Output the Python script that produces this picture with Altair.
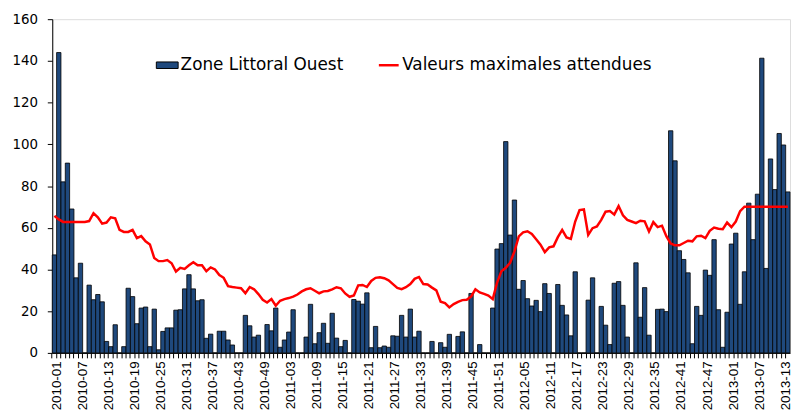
import altair as alt
import pandas as pd

# ---- data -------------------------------------------------------------
years = [2010, 2011, 2012, 2013]
weeks_per_year = [52, 52, 52, 14]
weeks = [f"{y}-{w:02d}" for y, n in zip(years, weeks_per_year) for w in range(1, n + 1)]

cases = [
    47, 144, 82, 91, 69, 36, 43, 0, 32.5, 25.5,
    28, 24.5, 5.5, 3, 13.5, 0, 3, 31, 27, 14,
    21.5, 22, 3, 21, 1.5, 10.3, 12, 12, 20.5, 20.7,
    30.7, 37.5, 30.7, 25, 25.5, 7, 9, 0, 10.4, 10.4,
    6.2, 3.8, 0, 0, 18, 13, 7.6, 8.5, 0, 13.6,
    10.6, 21.5, 2.7, 6.2, 10, 20.7, 0, 0, 7.6, 23.3,
    4.4, 9.7, 14.2, 4.6, 19, 7.1, 3, 6, 0, 25.6,
    24.8, 23.4, 28.8, 2.5, 12.7, 2.5, 3.3, 2.7, 8.2, 8,
    18, 7.6, 21, 7.6, 10.4, 0, 0, 5.5, 0, 4.9,
    2.7, 8.9, 0, 7.9, 10.1, 0, 28.5, 0, 4, 0,
    0, 21.5, 49.8, 52.4, 101.3, 56.5, 73.3, 30.5, 34.7, 26,
    22.5, 25.2, 19.8, 33.2, 28.5, 0, 32.8, 22.8, 18.2, 8.2,
    38.9, 0, 0, 25.3, 36, 0, 22.3, 13.3, 4, 33.4,
    34.2, 22.8, 7.6, 0, 43.2, 17.1, 31.3, 8.5, 0, 20.9,
    21, 19.8, 106.5, 92.1, 49, 44.8, 38.4, 4.4, 22.3, 18,
    39.7, 37.2, 54.3, 20.7, 2.7, 19.5, 52.2, 57.4, 23.3, 38.9,
    71.8, 54.3, 76.1, 141.3, 40.5, 93, 78.3, 105.2, 99.7, 77.2,
]

max_expected = [
    65.7, 64, 62.8, 62.8, 62.8, 62.8, 62.8, 62.8, 63.2, 67,
    65, 62, 62.5, 65, 64.5, 59, 58, 58, 59, 55,
    56, 53.5, 52, 45.5, 44, 44, 44.5, 43, 39, 40.8,
    40.3, 42, 43.5, 42, 42, 39.2, 41, 40, 37.3, 36,
    32, 31.6, 31.3, 31, 28.6, 31.6, 30.5, 28.2, 25.5, 24.2,
    25.8, 22.6, 25, 25.8, 26.3, 27, 28, 29.5, 30.5, 31,
    29.8, 28.6, 29.5, 29.7, 30.5, 31.5, 31, 28.5, 26.9, 27.5,
    32.4, 32.6, 31.6, 34.5, 36, 36.3, 35.8, 34.8, 33, 31.2,
    30.6, 31.5, 33, 35.5, 36.4, 33, 32.8, 31.3, 30, 24.5,
    23.9, 21.8, 23.4, 24.5, 25.3, 25.5, 27, 30.5, 29, 28.3,
    27.5, 25.8, 33.7, 39.2, 40.8, 43.2, 48.7, 55.9, 57.8, 58.3,
    57, 54.5, 51.9, 48.3, 50.6, 51.1, 55.5, 59, 55.4, 54.7,
    63, 68.5, 68.8, 56.6, 59.8, 60.6, 63.8, 67.7, 68, 66.3,
    70.4, 66, 63.8, 63, 62.2, 63.4, 63.1, 58.2, 62.7, 60.3,
    61, 56, 52.5, 51.6, 51.6, 52.7, 53.8, 53.5, 55.9, 56.2,
    55, 58.5, 60.1, 59.5, 59.3, 62.5, 60.3, 63, 68, 70.1,
    70.1, 70.1, 70.1, 70.1, 70.1, 70.1, 70.1, 70.1, 70.1, 70.1,
]

bar_name = "Zone Littoral Ouest"
line_name = "Valeurs maximales attendues"
y_ticks = [0, 20, 40, 60, 80, 100, 120, 140, 160]
labeled_weeks = weeks[::6]

df = pd.DataFrame({
    "week": weeks,
    "cases": cases,
    "maxexp": max_expected,
    "s_bar": bar_name,
    "s_line": line_name,
})

# ---- chart ------------------------------------------------------------
W, H = 745, 337
band = W / len(weeks)
label_list = "[" + ",".join(f"'{w}'" for w in labeled_weeks) + "]"

x_enc = alt.X(
    "week:N",
    sort=weeks,
    scale=alt.Scale(paddingInner=0, paddingOuter=0),
    axis=alt.Axis(
        title=None,
        labelAngle=-90,
        labelExpr=f"indexof({label_list}, datum.value) >= 0 ? datum.value : ''",
        labelOverlap=False,
        labelFont="Liberation Sans",
        labelFontSize=13.5,
        labelColor="black",
        labelPadding=3,
        bandPosition=0,
        labelOffset=band / 2,
        tickSize=5,
        tickColor="black",
        domainColor="black",
        grid=False,
    ),
)

y_enc_axis = alt.Axis(
    title=None,
    values=y_ticks,
    labelFont="DejaVu Sans",
    labelFontSize=13.5,
    labelColor="black",
    labelPadding=10,
    tickSize=5,
    tickColor="black",
    domainColor="black",
    grid=False,
)

bars = alt.Chart(df).mark_bar(stroke="black", strokeWidth=0.8).encode(
    x=x_enc,
    y=alt.Y("cases:Q", scale=alt.Scale(domain=[0, 160], nice=False), axis=y_enc_axis),
    fill=alt.Fill(
        "s_bar:N",
        scale=alt.Scale(domain=[bar_name], range=["#1F497D"]),
        legend=alt.Legend(
            title=None,
            orient="none",
            legendX=104.6,
            legendY=35,
            padding=0,
            symbolType="M-1,-0.3H1V0.3H-1Z",
            symbolSize=484,
            symbolStrokeColor="black",
            symbolStrokeWidth=1,
            symbolOpacity=1,
            labelFont="DejaVu Sans",
            labelFontSize=17,
            labelColor="black",
            labelOffset=2,
            labelLimit=0,
        ),
    ),
)

line = alt.Chart(df).mark_line(strokeWidth=2.5).encode(
    x=x_enc,
    y=alt.Y("maxexp:Q", scale=alt.Scale(domain=[0, 160], nice=False)),
    stroke=alt.Stroke(
        "s_line:N",
        scale=alt.Scale(domain=[line_name], range=["#FF0000"]),
        legend=alt.Legend(
            title=None,
            orient="none",
            legendX=328.3,
            legendY=35,
            padding=0,
            symbolType="stroke",
            symbolSize=400,
            symbolStrokeWidth=2.5,
            labelFont="DejaVu Sans",
            labelFontSize=17,
            labelColor="black",
            labelOffset=2,
            labelLimit=0,
        ),
    ),
)

chart = (
    alt.layer(bars, line)
    .properties(
        width=W,
        height=H,
        autosize=alt.AutoSizeParams(type="none"),
        padding={"left": 44.7, "top": 9.3, "right": 2, "bottom": 60},
    )
    .configure_view(stroke=None)
    .configure(background="white")
)

chart.save("out.html", embed_options={"renderer": "svg", "actions": False})
